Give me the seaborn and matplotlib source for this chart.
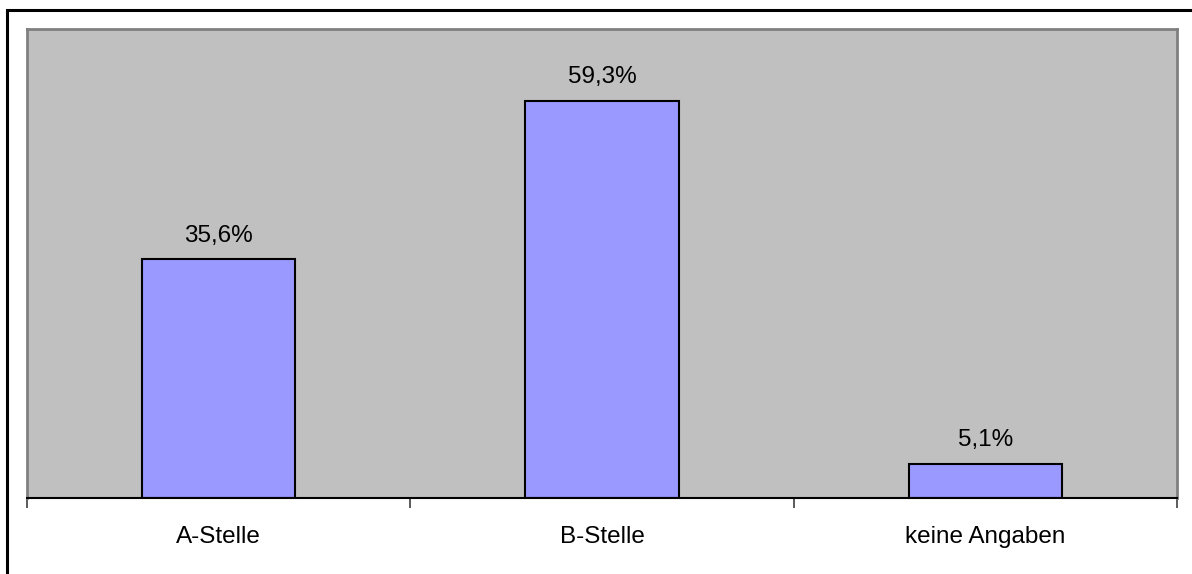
import matplotlib
matplotlib.use('Agg')
import matplotlib.pyplot as plt
import seaborn as sns
from matplotlib.patches import Rectangle

# data
categories = ['A-Stelle', 'B-Stelle', 'keine Angaben']
values = [35.6, 59.3, 5.1]
value_labels = ['35,6%', '59,3%', '5,1%']

sns.set_style('white')
plt.rcParams['font.family'] = ['Liberation Sans', 'DejaVu Sans']
plt.rcParams['text.color'] = 'black'
plt.rcParams['xtick.color'] = 'black'

fig = plt.figure(figsize=(11.92, 5.74), dpi=100)
ax = fig.add_axes([27 / 1192, 1 - 498 / 574, 1150 / 1192, 469 / 574])
ax.set_facecolor('#C0C0C0')

sns.barplot(x=categories, y=values, color='#9999FF', edgecolor='black',
            linewidth=1.5, width=0.4, saturation=1, ax=ax)
ax.bar_label(ax.containers[0], labels=value_labels, padding=9, fontsize=17.5,
             color='black')

ax.set_ylim(0, 70)
ax.set_xlim(-0.5, 2.5)
ax.set_yticks([])
ax.set_xticks(range(len(categories)))
ax.set_xticklabels(categories, fontsize=17.5)
ax.tick_params(axis='x', which='major', length=0, pad=20, labelcolor='black')
ax.set_xticks([-0.5, 0.5, 1.5, 2.5], minor=True)
ax.tick_params(axis='x', which='minor', length=7, width=1.2, color='#404040',
               bottom=True, direction='out')

for side in ['left', 'top', 'right']:
    ax.spines[side].set_color('#808080')
    ax.spines[side].set_linewidth(2)
ax.spines['bottom'].set_color('black')
ax.spines['bottom'].set_linewidth(1.5)

# outer chart border (only top and left are visible in the picture)
fig.add_artist(Rectangle((7 / 1192, -0.1), 1.2, 1.1 - 10 / 574,
                         transform=fig.transFigure, fill=False,
                         edgecolor='black', linewidth=2.2, zorder=-1))

fig.savefig('out.png', dpi=100, facecolor='white')
